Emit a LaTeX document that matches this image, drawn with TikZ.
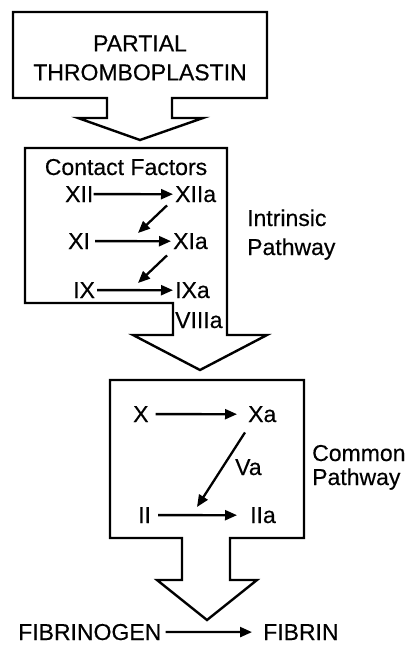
\documentclass[tikz,border=0pt]{standalone}
\usepackage{fontspec}
\setmainfont{Liberation Sans}[UprightFeatures={FakeBold=0.35}]
\usetikzlibrary{calc,arrows.meta}

\tikzset{
	label/.style={font=\fontsize{23}{29}\selectfont, inner sep=2pt},
	blockarrow/.style={line width=2.4pt, line join=miter},
	react/.style={line width=2.3pt, -{Triangle[length=12pt,width=10pt]}}
}

\begin{document}
\begin{tikzpicture}[x=1pt,y=-1pt]
		\useasboundingbox (0,0) rectangle (407,645);

		% partial thromboplastin
		\draw[blockarrow] (13,12) -- (267,12) -- (267,98) -- (172,98) -- (172,118)
			-- (203,118) -- (140,140) -- (78,118) -- (107,118) -- (107,98) -- (13,98) -- cycle;
		\node[label, align=center] (PTT) at (140,58) {PARTIAL\\THROMBOPLASTIN};

		% intrinsic pathway
		\draw[blockarrow] (25,148) -- (227,148) -- (227,335) -- (267,335) -- (200,370)
			-- (133,335) -- (173,335) -- (173,303) -- (25,303) -- cycle;
		\node[label, anchor=base] (CF) at (126,175) {Contact Factors};
		\node[label, anchor=base west] (XII)  at (63,202)  {XII};
		\node[label, anchor=base west] (XIIa) at (173,202) {XIIa};
		\node[label, anchor=base west] (XI)   at (66,249)  {XI};
		\node[label, anchor=base west] (XIa)  at (171,249) {XIa};
		\node[label, anchor=base west] (IX)   at (71,298)  {IX};
		\node[label, anchor=base west] (IXa)  at (173,298) {IXa};
		\node[label, anchor=base west] (VIIIa) at (173,328) {VIIIa};
		\node[label, anchor=base west] (Intr) at (245,226) {Intrinsic};
		\node[label, anchor=base west] (IntrP) at (245,255) {Pathway};

		\coordinate (act1) at (138,233);
		\coordinate (act2) at (138,283);
		\draw[react, shorten <=-2pt] (XII) -- (XIIa);
		\draw[react, shorten <=3pt] (XI) -- (XIa);
		\draw[react] (IX) -- (IXa);
		\draw[react] ([xshift=-6pt,yshift=-1pt]XIIa.south west) -- (act1);
		\draw[react] ([xshift=-4pt,yshift=-4pt]XIa.south west) -- (act2);

		% common pathway
		\draw[blockarrow] (110,380) -- (304,380) -- (304,538) -- (230,538) -- (230,580)
			-- (257,580) -- (207,620) -- (157,580) -- (182,580) -- (182,538) -- (110,538) -- cycle;
		\node[label, anchor=base west] (X)   at (131,422) {X};
		\node[label, anchor=base west] (Xa)  at (246,422) {Xa};
		\node[label, anchor=base west] (Va)  at (233,475) {Va};
		\node[label, anchor=base west] (II)  at (136,523) {II};
		\node[label, anchor=base west] (IIa) at (248,523) {IIa};
		\node[label, anchor=base west] (Comm)  at (310,461) {Common};
		\node[label, anchor=base west] (CommP) at (310,485) {Pathway};

		\coordinate (act3) at (197,507);
		\draw[react, shorten <=5pt, shorten >=9pt] (X) -- (Xa);
		\draw[react, shorten <=5pt, shorten >=11pt] (II) -- (IIa);
		\draw[react] ([xshift=-1pt,yshift=-8pt]Xa.south west) -- (act3);

		% fibrin
		\node[label, anchor=base west] (FGN) at (16,640)  {FIBRINOGEN};
		\node[label, anchor=base west] (FIB) at (261,640) {FIBRIN};
		\draw[react, shorten <=2pt, shorten >=9pt] (FGN) -- (FIB);

	\end{tikzpicture}
\end{document}
